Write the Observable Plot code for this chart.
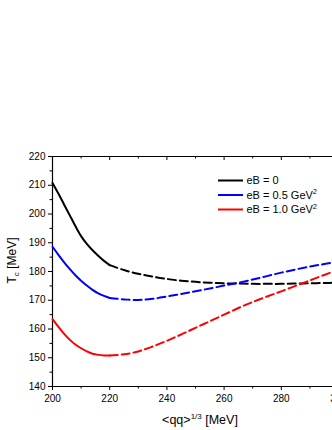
<!DOCTYPE html>
<html><head><meta charset="utf-8">
<script src="https://cdn.jsdelivr.net/npm/d3@7"></script>
<script src="https://cdn.jsdelivr.net/npm/@observablehq/plot@0.6"></script>
<style>
html,body{margin:0;padding:0;overflow:hidden;background:#fff;width:332px;height:430px}
#chart svg{max-width:none !important;}
</style>
</head><body><div id="chart"></div>
<script>
// ---- data ----
const seriesKeys = ["eB = 0", "eB = 0.5", "eB = 1.0"];
const seriesColors = ["#000000", "#0000ff", "#ff0000"];
const legendText = ["eB = 0", "eB = 0.5 GeV", "eB = 1.0 GeV"];
const legendSup = ["", "2", "2"];

const qSolid = [200, 202, 204, 206, 208, 210, 212, 214, 216, 218, 220];
const tBlackSolid = [210.8, 207.2, 203.4, 199.6, 195.8, 192.3, 189.6, 187.4, 185.5, 183.7, 182.2];
const tBlueSolid  = [188.6, 185.9, 183.3, 180.9, 178.7, 176.8, 175.1, 173.6, 172.4, 171.5, 170.8];
const tRedSolid   = [163.4, 160.8, 158.4, 156.3, 154.6, 153.3, 152.2, 151.4, 151.0, 150.8, 150.8];

const qDashed = [220, 225, 230, 235, 240, 245, 250, 255, 260, 265, 270, 275, 280, 285, 290, 295, 300];
const tBlackDashed = [182.2, 180.5, 179.2, 178.2, 177.4, 176.8, 176.4, 176.1, 175.9, 175.8, 175.7, 175.7, 175.7, 175.8, 175.9, 176.0, 176.1];
const tBlueDashed  = [170.8, 170.3, 170.1, 170.5, 171.3, 172.2, 173.1, 174.1, 175.1, 176.1, 177.2, 178.4, 179.6, 180.7, 181.7, 182.6, 183.4];
const tRedDashed   = [150.8, 151.2, 152.2, 153.9, 155.9, 158.1, 160.4, 162.7, 165.0, 167.3, 169.4, 171.3, 173.1, 175.0, 176.9, 178.8, 180.6];

const xMajor = [200, 220, 240, 260, 280, 300];
const xMinor = [210, 230, 250, 270, 290];
const yMajor = [140, 150, 160, 170, 180, 190, 200, 210, 220];
const yMinor = [145, 155, 165, 175, 185, 195, 205, 215];

// ---- tables ----
const solidSets = [tBlackSolid, tBlueSolid, tRedSolid];
const dashedSets = [tBlackDashed, tBlueDashed, tRedDashed];
const solidRows = [], dashedRows = [];
seriesKeys.forEach((s, i) => {
  qSolid.forEach((q, j) => solidRows.push({q, T: solidSets[i][j], s}));
  qDashed.forEach((q, j) => dashedRows.push({q, T: dashedSets[i][j], s}));
});

const W = 345, H = 430, mL = 52, mR = 7, mT = 156, mB = 44;
const plotH = H - mT - mB;

const svg = Plot.plot({
  width: W, height: H,
  marginLeft: mL, marginRight: mR, marginTop: mT, marginBottom: mB,
  style: {fontFamily: "Arial, 'Liberation Sans', sans-serif", fontSize: "10px", color: "#000", background: "#fff", maxWidth: "none"},
  x: {domain: [200, 300], label: null},
  y: {domain: [140, 220], label: null},
  color: {domain: seriesKeys, range: seriesColors},
  marks: [
    Plot.axisX({ticks: xMajor, tickSize: 4, tickPadding: 4, label: null}),
    Plot.axisX({ticks: xMinor, tickSize: 2.5, tickFormat: () => "", label: null}),
    Plot.axisY({ticks: yMajor, tickSize: 4, tickPadding: 3, label: null}),
    Plot.axisY({ticks: yMinor, tickSize: 2.5, tickFormat: () => "", label: null}),
    Plot.tickX(xMajor, {x: d => d, insetBottom: plotH - 4, stroke: "#000"}),
    Plot.tickX(xMinor, {x: d => d, insetBottom: plotH - 2.5, stroke: "#000"}),
    Plot.ruleX([200], {stroke: "#000", strokeWidth: 1.2}),
    Plot.ruleX([300], {stroke: "#000", strokeWidth: 1.2}),
    Plot.ruleY([140], {stroke: "#000", strokeWidth: 1.2}),
    Plot.ruleY([220], {stroke: "#000", strokeWidth: 1.2}),
    Plot.line(solidRows, {x: "q", y: "T", z: "s", stroke: "s", strokeWidth: 2, curve: "catmull-rom"}),
    Plot.line(dashedRows, {x: "q", y: "T", z: "s", stroke: "s", strokeWidth: 2, strokeDasharray: "8,4", curve: "catmull-rom"})
  ]
});
svg.style.maxWidth = "none";
svg.setAttribute("width", W);
svg.setAttribute("height", H);
document.getElementById("chart").appendChild(svg);

const g = d3.select(svg).append("g").attr("font-family", "Arial, 'Liberation Sans', sans-serif").attr("fill", "#000");

// x label
const xl = g.append("text").attr("x", 200).attr("y", 424).attr("text-anchor", "middle").attr("font-size", 12.5);
xl.append("tspan").text("<qq>");
xl.append("tspan").attr("dy", -5).attr("font-size", 8).text("1/3");
xl.append("tspan").attr("dy", 5).text(" [MeV]");

// y label
const yl = g.append("text").attr("transform", "translate(15.5,260.5) rotate(-90)").attr("text-anchor", "middle").attr("font-size", 12);
yl.append("tspan").text("T");
yl.append("tspan").attr("dy", 3).attr("font-size", 8).text("c");
yl.append("tspan").attr("dy", -3).text(" [MeV]");

// legend
const legY = [180.5, 195, 209.5];
seriesKeys.forEach((s, i) => {
  g.append("line").attr("x1", 218).attr("x2", 243).attr("y1", legY[i]).attr("y2", legY[i])
    .attr("stroke", seriesColors[i]).attr("stroke-width", 2);
  const t = g.append("text").attr("x", 246.5).attr("y", legY[i]).attr("dy", "0.36em")
    .attr("text-anchor", "start").attr("font-size", 11);
  t.append("tspan").text(legendText[i]);
  if (legendSup[i]) t.append("tspan").attr("dy", -4.5).attr("font-size", 7.5).text(legendSup[i]);
});
</script>
</body></html>
